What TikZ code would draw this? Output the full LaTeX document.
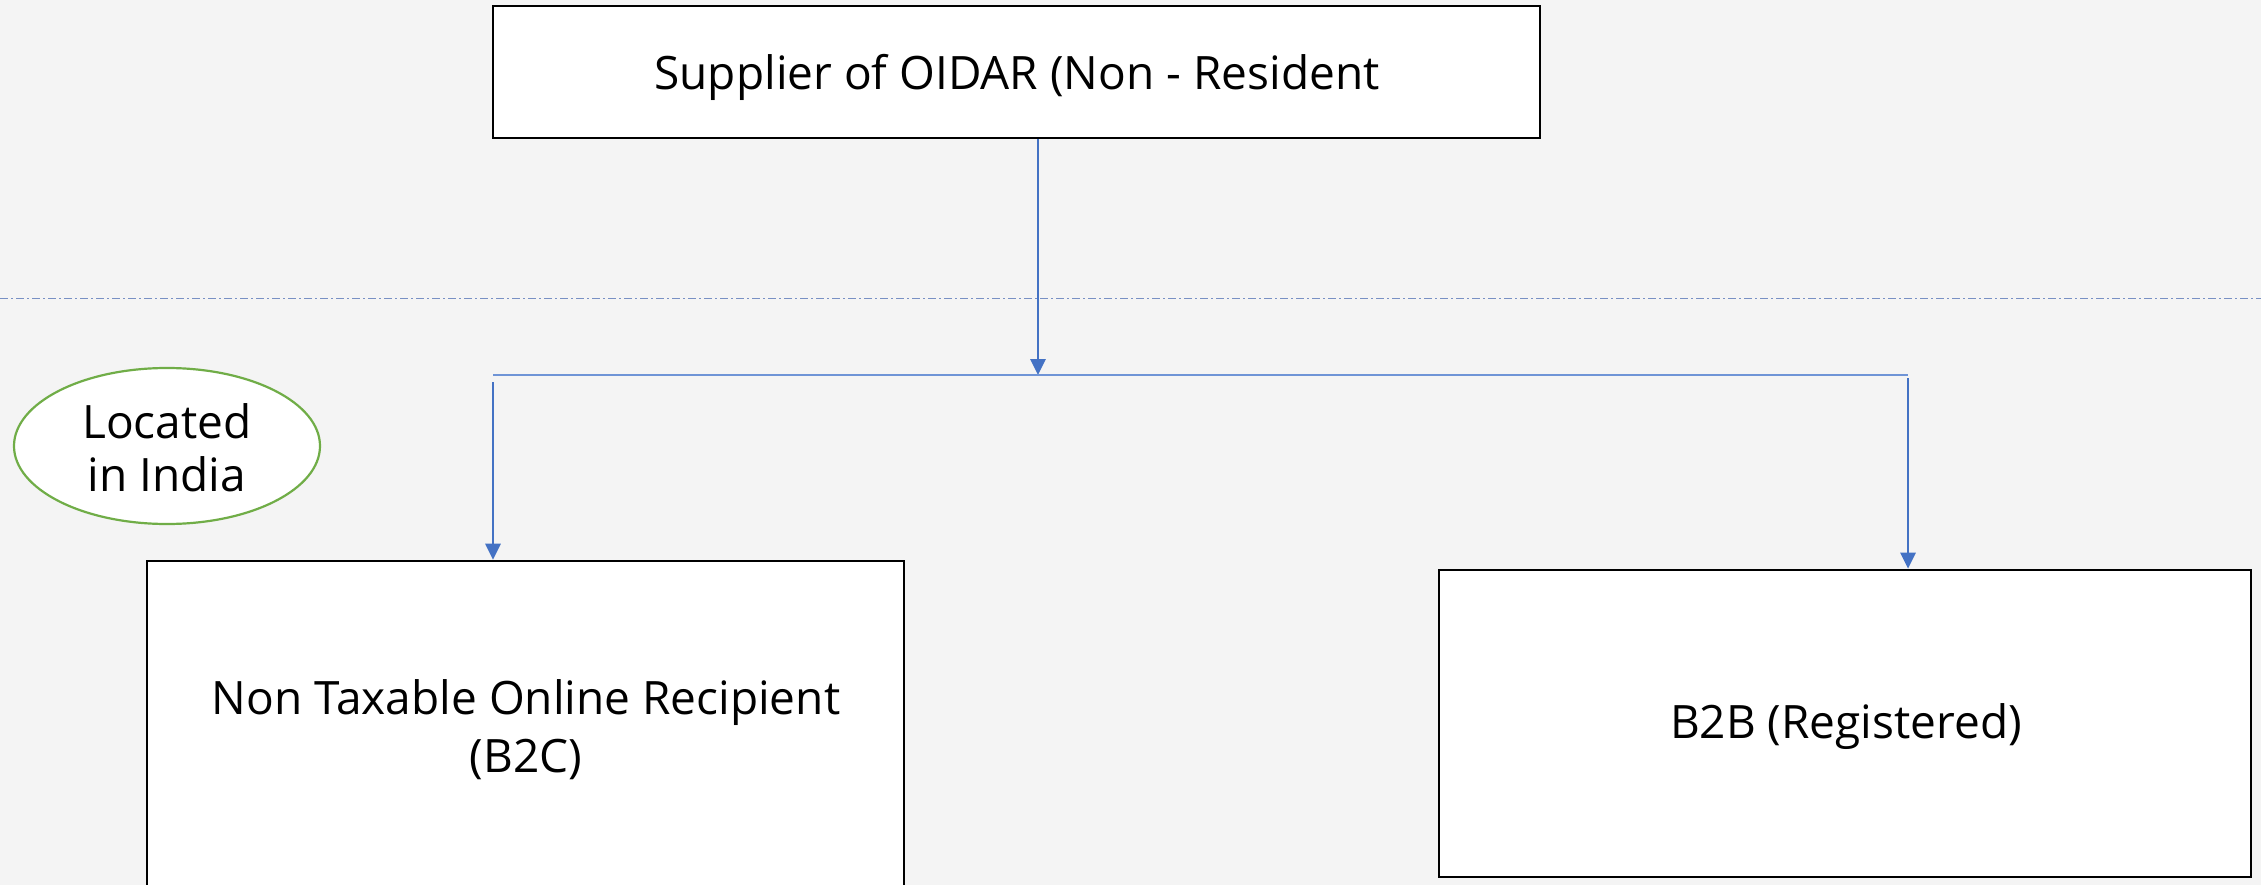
\documentclass[tikz,border=0pt]{standalone}
\usepackage{fontspec}
\setmainfont{Open Sans}
\usetikzlibrary{arrows.meta,shapes.geometric}
\definecolor{pagebg}{HTML}{F4F4F4}
\definecolor{flowblue}{HTML}{4472C4}
\definecolor{buslight}{HTML}{6F94D6}
\definecolor{leafgreen}{HTML}{70AD47}
\definecolor{guide}{HTML}{7890C4}
\tikzset{
  px/.style={x=1pt,y=-1pt},
  box/.style={draw=black,line width=2.6pt,fill=white,inner sep=0pt,align=center},
  lbl/.style={font=\fontsize{46}{58}\selectfont},
  flow/.style={draw=flowblue,line width=2.8pt,-{Triangle[length=16pt,width=15pt]}},
  bus/.style={draw=buslight,line width=2pt},
}
\begin{document}
\begin{tikzpicture}[px]
  \fill[pagebg] (0,0) rectangle (2261,885);
  \useasboundingbox (0,0) rectangle (2261,885);

  % boundary line between the supplier and the recipients
  \draw[guide,line width=1.6pt,dash pattern=on 8pt off 3pt on 2pt off 3pt] (0,298.5) -- (2261,298.5);

  % top supplier box
  \node[box,minimum width=1047pt,minimum height=132pt] (sup) at (1016.5,72) {};
  \node[lbl] (suptxt) at (1017,77) {Supplier of OIDAR (Non - Resident};

  % recipient boxes
  \node[box,minimum width=757pt,minimum height=340pt] (b2c) at (525.5,731) {};
  \node[lbl,align=center] (b2ctxt) at (526,730) {Non Taxable Online Recipient\\(B2C)};
  \node[box,minimum width=812pt,minimum height=307pt] (b2b) at (1845,723.5) {};
  \node[lbl] (b2btxt) at (1846,727) {B2B (Registered)};

  % location tag
  \node[ellipse,draw=leafgreen,line width=2.2pt,fill=white,minimum width=306pt,minimum height=156pt,inner sep=0pt] (loc) at (167,446) {};
  \node[lbl,font=\fontsize{46}{53}\selectfont,align=center] (loctxt) at (167,448) {Located\\in India};

  % connectors
  \coordinate (busmid) at (1038,375);
  \coordinate (busL) at (493,375);
  \coordinate (busR) at (1908,375);
  \coordinate (dropL) at (493,382);
  \coordinate (dropR) at (1908,378);
  \draw[flow] (sup.south -| busmid) -- (busmid);
  \draw[bus] (busL) -- (busR);
  \draw[flow] (dropL) -- (b2c.north -| dropL);
  \draw[flow] (dropR) -- (b2b.north -| dropR);
\end{tikzpicture}
\end{document}
